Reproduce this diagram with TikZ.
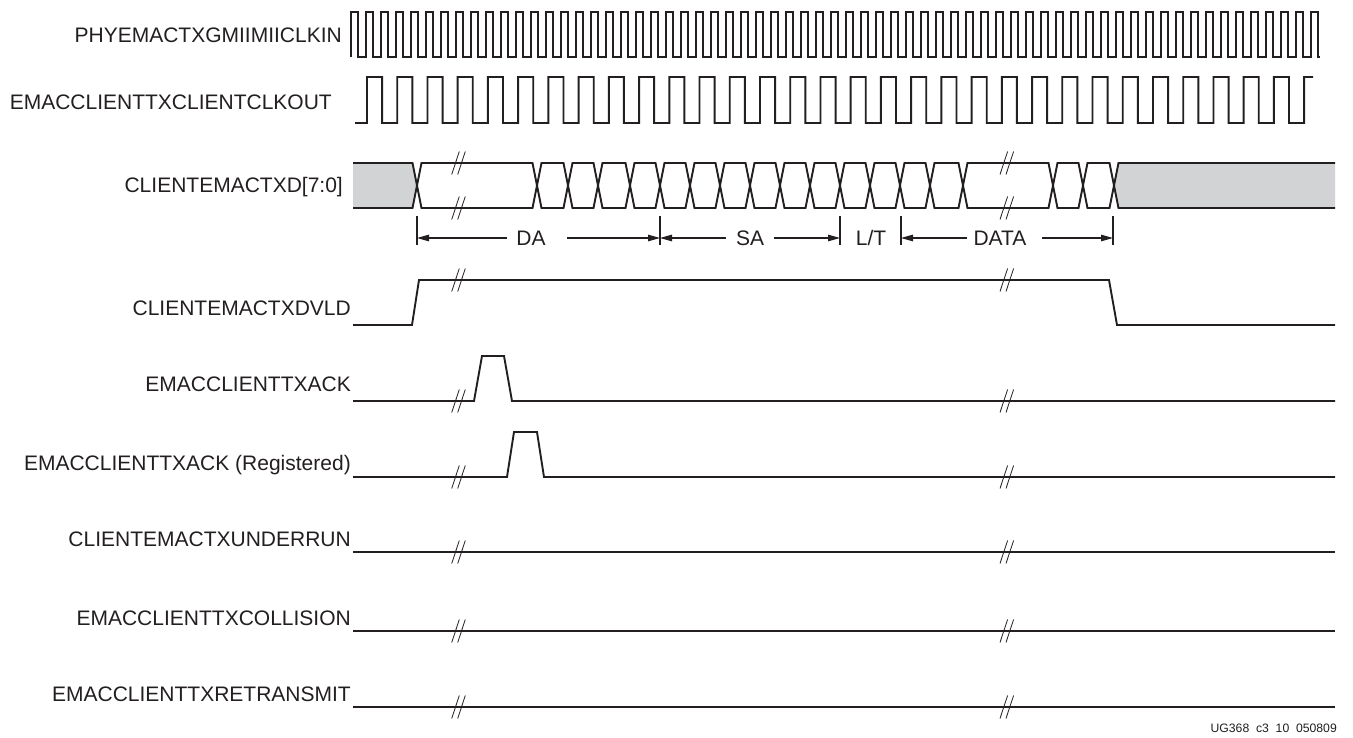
\documentclass[tikz,border=0pt]{standalone}
\usepackage{fontspec}
\setmainfont{Liberation Sans}
\usetikzlibrary{arrows.meta}
\definecolor{ink}{RGB}{35,31,32}
\definecolor{busgray}{RGB}{209,211,212}
\tikzset{
  sig/.style={draw=ink, line width=1.9pt, line join=miter},
  brkline/.style={draw=ink, line width=0.8pt},
  dimline/.style={draw=ink, line width=1.1pt},
  dimarrow/.style={dimline, -{Triangle[length=12pt,width=6.5pt]}},
  lab/.style={font=\fontsize{21}{24}\selectfont, text=ink, inner sep=0pt, anchor=base east},
  dimlab/.style={font=\fontsize{21}{24}\selectfont, text=ink, inner sep=0pt, anchor=base},
  foot/.style={font=\fontsize{12.2}{14}\selectfont, text=ink, inner sep=0pt, anchor=base east}
}
\newcommand\brkmark[2]{%
  \draw[brkline] ({#1-3-3.8},{#2+11.5}) -- ({#1-3+3.8},{#2-11.5});
  \draw[brkline] ({#1+3-3.8},{#2+11.5}) -- ({#1+3+3.8},{#2-11.5});}
\begin{document}
\begin{tikzpicture}[x=1pt,y=-1pt]
\useasboundingbox (0,0) rectangle (1353,738);

% ---------- labels ----------
\node[lab] (l1) at (342,43) {PHYEMACTXGMIIMIICLKIN};
\node[lab] (l2) at (332,110) {EMACCLIENTTXCLIENTCLKOUT};
\node[lab] (l3) at (343,193) {CLIENTEMACTXD[7:0]};
\node[lab] (l4) at (351,316) {CLIENTEMACTXDVLD};
\node[lab] (l5) at (351,391) {EMACCLIENTTXACK};
\node[lab] (l6) at (351,470) {EMACCLIENTTXACK (Registered)};
\node[lab] (l7) at (351,546) {CLIENTEMACTXUNDERRUN};
\node[lab] (l8) at (351,625) {EMACCLIENTTXCOLLISION};
\node[lab] (l9) at (351,701) {EMACCLIENTTXRETRANSMIT};
\node[foot] (ft) at (1337,732) {UG368\ \ c3\ \ 10\ \ 050809};

% ---------- clock 1 ----------
\draw[sig] (351,57)
  \foreach \k in {0,...,63}{ -- ({351+15*\k},12) -- ({358+15*\k},12) -- ({358+15*\k},57) -- ({366+15*\k},57)}
  -- (1311,12) -- (1318,12) -- (1318,57) -- (1320,57);

% ---------- clock 2 ----------
\draw[sig] (355,123) -- (367,123)
  \foreach \k in {0,...,30}{ -- ({367+30.23*\k},77) -- ({382.1+30.23*\k},77) -- ({382.1+30.23*\k},123) -- ({397.23+30.23*\k},123)}
  -- (1304.1,77) -- (1313,77);

% ---------- data bus ----------
\def\hh{4.5}
\fill[busgray] (353,163) -- (412.5,163) -- (417,185.5) -- (412.5,208) -- (353,208) -- cycle;
\draw[sig] (353,163) -- (412.5,163) -- (417,185.5) -- (412.5,208) -- (353,208);
\fill[busgray] (1335,163) -- (1118.5,163) -- (1114,185.5) -- (1118.5,208) -- (1335,208) -- cycle;
\draw[sig] (1335,163) -- (1118.5,163) -- (1114,185.5) -- (1118.5,208) -- (1335,208);
\foreach \a/\b in {417/537,537/568,568/598,598/630,630/660,660/690,690/720,720/750,750/780,780/810,810/840,840/870,870/900,900/930,930/963,963/1053,1053/1083,1083/1114}{
  \draw[sig] (\a,185.5) -- ({\a+\hh},163) -- ({\b-\hh},163) -- (\b,185.5) -- ({\b-\hh},208) -- ({\a+\hh},208) -- cycle;
}
\brkmark{458.5}{163}\brkmark{458.5}{208}
\brkmark{1006.8}{163}\brkmark{1006.8}{208}

% ---------- field dimensions ----------
\foreach \n/\x in {t1/417,t2/660,t3/840,t4/901,t5/1113}{
  \coordinate (\n top) at (\x,216);
  \coordinate (\n bot) at (\x,245);
  \coordinate (\n) at (\x,238);
  \draw[dimline] (\n top) -- (\n bot);
}
\node[dimlab] (da) at (531,246) {DA};
\node[dimlab] (sa) at (750,246) {SA};
\node[dimlab] (lt) at (871,246) {L/T};
\node[dimlab] (dt) at (1000,246) {DATA};
\coordinate (daL) at (507,238); \coordinate (daR) at (567,238);
\coordinate (saL) at (726,238); \coordinate (saR) at (774,238);
\coordinate (dtL) at (967,238); \coordinate (dtR) at (1042,238);
\draw[dimarrow] (daL) -- (t1);
\draw[dimarrow] (daR) -- (t2);
\draw[dimarrow] (saL) -- (t2);
\draw[dimarrow] (saR) -- (t3);
\draw[dimarrow] (dtL) -- (t4);
\draw[dimarrow] (dtR) -- (t5);

% ---------- control signals ----------
\draw[sig] (353,325) -- (412,325) -- (419,280) -- (1109,280) -- (1117,325) -- (1335,325);
\draw[sig] (353,401) -- (474,401) -- (482,356) -- (504,356) -- (512,401) -- (1335,401);
\draw[sig] (353,477) -- (507,477) -- (514,432) -- (537,432) -- (544,477) -- (1335,477);
\draw[sig] (353,552) -- (1335,552);
\draw[sig] (353,631) -- (1335,631);
\draw[sig] (353,707) -- (1335,707);
\foreach \y in {280,401,477,552,631,707}{
  \brkmark{458.5}{\y}\brkmark{1006.8}{\y}
}
\end{tikzpicture}
\end{document}
